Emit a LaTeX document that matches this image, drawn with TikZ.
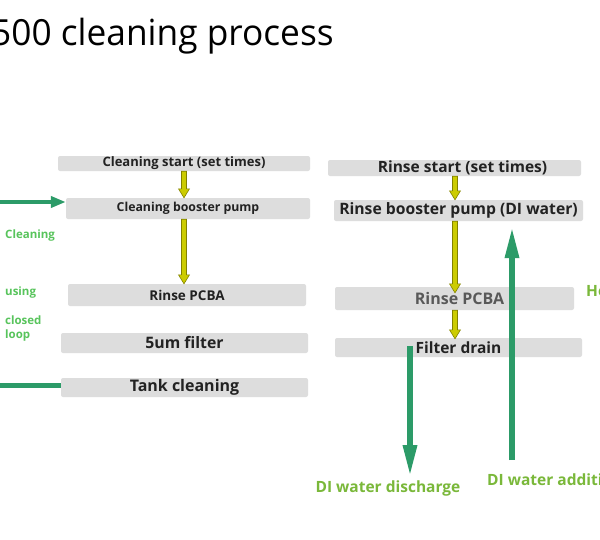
\documentclass[tikz,border=0pt]{standalone}
\usepackage{fontspec}
\setmainfont{Open Sans}
\usetikzlibrary{arrows.meta,calc,backgrounds}
\definecolor{boxGray}{RGB}{221,221,221}
\definecolor{textDark}{RGB}{34,34,34}
\definecolor{pipeGreen}{RGB}{44,155,104}
\definecolor{labelGreen}{RGB}{122,184,58}
\definecolor{loopGreen}{RGB}{88,196,92}
\definecolor{flowYellow}{RGB}{204,204,0}
\definecolor{flowEdge}{RGB}{130,130,0}

\tikzset{
	stepbox/.style={fill=boxGray, rounded corners=2pt, inner sep=0pt, font=\bfseries\fontsize{15.5}{16}\selectfont, text=textDark},
	flowarrow/.style={fill=flowYellow, draw=flowEdge, line width=0.6pt},
	pipe/.style={draw=pipeGreen, line width=5pt},
	greenlabel/.style={font=\bfseries\fontsize{15.5}{16}\selectfont, text=labelGreen},
	looplabel/.style={anchor=west, inner sep=0pt, font=\bfseries\fontsize{11.5}{14}\selectfont, text=loopGreen}
}

% fat yellow arrow pointing down from #1 to #2
\newcommand{\flowdown}[2]{%
	\path[flowarrow] let \p1=(#1), \p2=(#2) in
		(\x1-2.5pt,\y1) -- (\x1+2.5pt,\y1) -- (\x1+2.5pt,\y2+9pt) -- (\x1+5.5pt,\y2+9pt)
		-- (\x1,\y2) -- (\x1-5.5pt,\y2+9pt) -- (\x1-2.5pt,\y2+9pt) -- cycle;}

\begin{document}
\begin{tikzpicture}[x=1pt,y=-1pt]
			\useasboundingbox[fill=white] (0,0) rectangle (600,539);

			% Title
			\node[anchor=base west, font=\fontsize{36}{36}\selectfont, xscale=0.98, inner sep=0pt] (title) at (-9,45) {500 cleaning process};

			% Cleaning steps (left)
			\node[stepbox, minimum width=252, minimum height=15, font=\bfseries\fontsize{13}{13}\selectfont] (cstart) at (184,163.5) {Cleaning start (set times)};
			\node[stepbox, minimum width=244, minimum height=21, font=\bfseries\fontsize{12.3}{13}\selectfont] (cpump) at (188,208.5) {Cleaning booster pump};
			\node[stepbox, minimum width=238, minimum height=22, font=\bfseries\fontsize{13.5}{14}\selectfont] (crinse) at (187,295) {Rinse PCBA};
			\node[stepbox, minimum width=247, minimum height=20, font=\bfseries\fontsize{15.8}{16}\selectfont] (cfilter) at (184.5,343) {5um filter};
			\node[stepbox, minimum width=247, minimum height=19, font=\bfseries\fontsize{16}{16}\selectfont] (ctank) at (184.5,387.5) {Tank cleaning};

			% Rinse steps (right)
			\node[stepbox, minimum width=253, minimum height=16] (rstart) at (454.5,168) {\hspace{16pt}Rinse start (set times)};
			\node[stepbox, minimum width=249, minimum height=21, font=\bfseries\fontsize{15.7}{16}\selectfont] (rpump) at (458.5,210.5) {Rinse booster pump (DI water)};
			\node[stepbox, minimum width=239, minimum height=23, font=\bfseries\fontsize{16}{16}\selectfont, text=black!65] (rrinse) at (454.5,298.5) {\hspace{10pt}Rinse PCBA};
			\node[stepbox, minimum width=247, minimum height=19] (rdrain) at (458.5,347.5) {Filter drain};

			% Axis of the yellow arrows
			\coordinate (lx) at (184,0);
			\coordinate (rx) at (455,0);

			% Yellow flow arrows
			\flowdown{cstart.south -| lx}{cpump.north -| lx}
			\flowdown{cpump.south -| lx}{crinse.north -| lx}
			\begin{scope}[on background layer]
				\flowdown{crinse.south -| lx}{ctank.north -| lx}
			\end{scope}
			\flowdown{rstart.south -| rx}{rpump.north -| rx}
			\flowdown{rpump.south -| rx}{$(rrinse.north -| rx)+(0,6)$}
			\flowdown{rrinse.south -| rx}{$(rdrain.north -| rx)+(0,1)$}

			% Closed loop pipes (left)
			\coordinate (loopin) at (0,202);
			\coordinate (loopout) at (0,385);
			\draw[pipe, line width=4pt, -{Triangle[length=15pt, width=11pt]}] (loopin) -- (loopin -| cpump.west);
			\draw[pipe] (loopout -| ctank.west) -- (loopout);
			\node[looplabel] (lclean) at (5,236) {Cleaning};
			\node[looplabel] (lusing) at (5,293) {using};
			\node[looplabel, align=left] (lclosed) at (5,329) {closed\\loop};

			% DI water pipes (right)
			\coordinate (drainx) at (410,346);
			\coordinate (drainend) at (410,477);
			\coordinate (addx) at (512,460);
			\node[greenlabel] (discharge) at (388,488) {DI water discharge};
			\node[greenlabel, anchor=west, inner sep=0pt] (addition) at (487,480) {DI water addition};
			\node[greenlabel, anchor=west, inner sep=0pt, font=\bfseries\fontsize{15.5}{16}\selectfont] (heat) at (586,291) {He};
			\draw[pipe, line width=6pt, -{Triangle[length=32pt, width=13pt]}] (drainx) -- (drainend);
			\draw[pipe, line width=6pt, -{Triangle[length=32pt, width=13pt]}] (addx) -- ($(addx |- rpump.south)+(0,5)$);
		\end{tikzpicture}
\end{document}
